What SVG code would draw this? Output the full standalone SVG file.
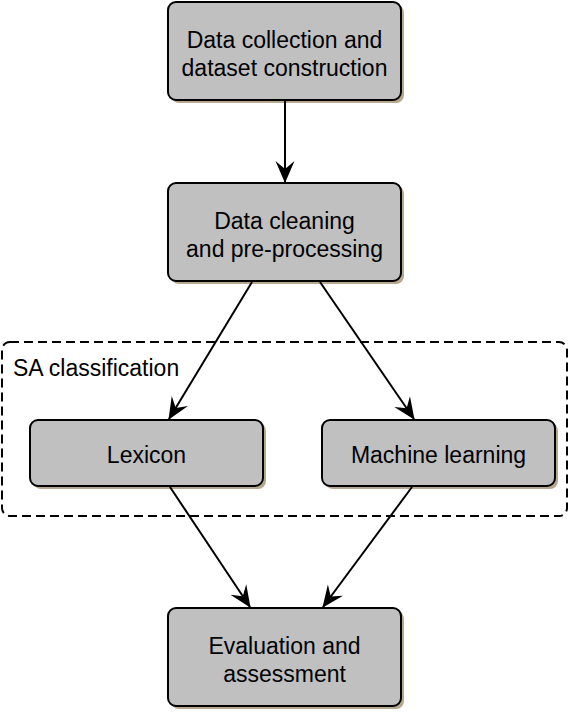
<svg xmlns="http://www.w3.org/2000/svg" width="568" height="712" viewBox="0 0 568 712">
<style>
.box{fill:#c0c0c0;stroke:#000;stroke-width:2}
.sh{fill:#b5a88f}
.t{font-family:"Liberation Sans",Arial,sans-serif;font-size:23px;fill:#000;text-anchor:middle}
.c{stroke:#000;stroke-width:2;fill:none;marker-end:url(#ah)}
</style>
<defs>
<marker id="ah" viewBox="0 0 22 20" refX="21" refY="10" markerWidth="22" markerHeight="20" markerUnits="userSpaceOnUse" orient="auto">
<path d="M0,0.5 L22,10 L0,19.5 L8,10 Z" fill="#000"/>
</marker>
</defs>
<rect width="568" height="712" fill="#fff"/>
<g id="container">
<rect x="2" y="342" width="565" height="174" rx="8" fill="none" stroke="#000" stroke-width="2" stroke-dasharray="9,5"/>
<text x="13" y="376" font-family="Liberation Sans,Arial,sans-serif" font-size="23">SA classification</text>
</g>
<g id="n1">
<rect class="sh" x="171" y="5" width="233" height="98" rx="8"/>
<rect class="box" x="168" y="2" width="233" height="98" rx="8"/>
<text class="t" x="284.5" y="48">Data collection and</text>
<text class="t" x="284.5" y="76">dataset construction</text>
</g>
<g id="n2">
<rect class="sh" x="171" y="186" width="233" height="98" rx="8"/>
<rect class="box" x="168" y="183" width="233" height="98" rx="8"/>
<text class="t" x="284.5" y="229">Data cleaning</text>
<text class="t" x="284.5" y="257">and pre-processing</text>
</g>
<g id="n3">
<rect class="sh" x="33" y="423" width="233" height="66" rx="8"/>
<rect class="box" x="30" y="420" width="233" height="66" rx="8"/>
<text class="t" x="146.5" y="463">Lexicon</text>
</g>
<g id="n4">
<rect class="sh" x="325" y="423" width="233" height="66" rx="8"/>
<rect class="box" x="322" y="420" width="233" height="66" rx="8"/>
<text class="t" x="438.5" y="463">Machine learning</text>
</g>
<g id="n5">
<rect class="sh" x="171" y="611" width="233" height="98" rx="8"/>
<rect class="box" x="168" y="608" width="233" height="98" rx="8"/>
<text class="t" x="284.5" y="654">Evaluation and</text>
<text class="t" x="284.5" y="682">assessment</text>
</g>
<g id="connectors">
<path class="c" d="M285,101 L285,182"/>
<path class="c" d="M252,282 L169,419"/>
<path class="c" d="M320,282 L414,419"/>
<path class="c" d="M170,487 L250,607"/>
<path class="c" d="M412,487 L323,607"/>
</g>
</svg>
